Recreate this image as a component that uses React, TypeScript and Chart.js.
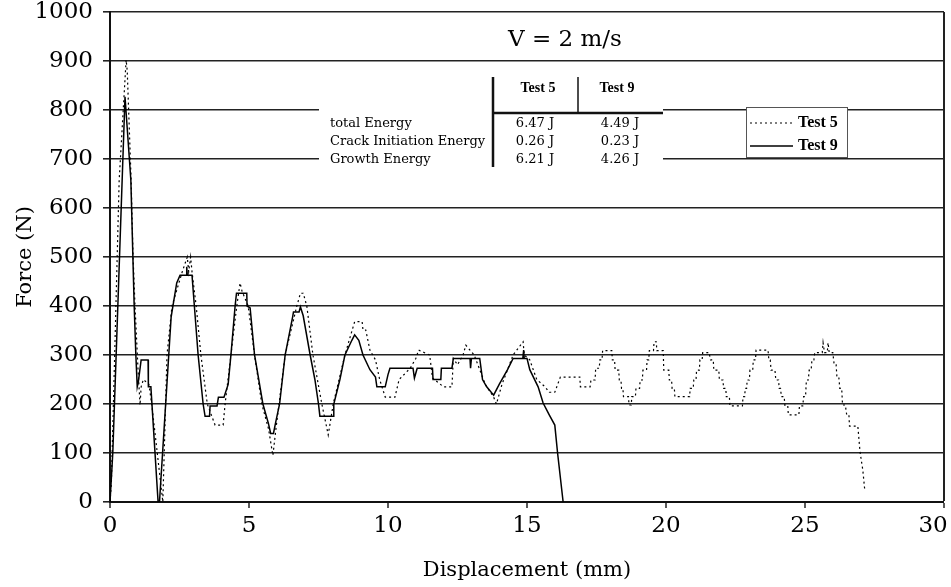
import { useEffect, useRef } from 'react';
import { Chart, registerables } from 'chart.js';

Chart.register(...registerables);

// ---------- data ----------
const chartTitle = 'V = 2 m/s';
const xAxisTitle = 'Displacement (mm)';
const yAxisTitle = 'Force (N)';
const seriesNames = ['Test 5', 'Test 9'];

const tableHeaders = ['Test 5', 'Test 9'];
const tableRows = ['total Energy', 'Crack Initiation Energy', 'Growth Energy'];
const test5Energy = ['6.47 J', '0.26 J', '6.21 J'];
const test9Energy = ['4.49 J', '0.23 J', '4.26 J'];

const xTicksMax = 30;
const yTicksMax = 1000;

// Test 9 (solid)
const test9X = [
  0, 0.05, 0.1, 0.54, 0.57, 0.75, 0.87, 0.93, 0.98, 1.02,
  1.12, 1.37, 1.38, 1.47, 1.73, 1.78, 2.2, 2.4, 2.52, 2.74,
  2.76, 2.78, 2.95, 3.17, 3.35, 3.42, 3.58, 3.6, 3.85, 3.9,
  4.1, 4.25, 4.35, 4.5, 4.55, 4.92, 4.93, 5.04, 5.2, 5.5,
  5.7, 5.78, 5.88, 5.95, 6.1, 6.3, 6.57, 6.6, 6.8, 6.85,
  6.95, 7.2, 7.37, 7.5, 7.55, 8.03, 8.05, 8.27, 8.45, 8.7,
  8.8, 8.95, 9.1, 9.35, 9.55, 9.6, 9.9, 10.0, 10.07, 10.9,
  10.95, 11.05, 11.6, 11.62, 11.9, 11.92, 12.3, 12.35, 12.95, 12.97,
  13.0, 13.3, 13.4, 13.55, 13.8, 14.0, 14.3, 14.5, 14.85, 14.88,
  14.9, 15.0, 15.1, 15.4, 15.58, 15.8, 16.0, 16.1, 16.3,
];
const test9F = [
  0, 50, 100, 827, 827, 657, 400, 300, 235, 245,
  290, 290, 235, 235, 0, 0, 378, 447, 463, 463,
  480, 463, 463, 300, 200, 175, 175, 196, 196, 214,
  214, 240, 300, 400, 426, 426, 400, 396, 300, 200,
  160, 140, 140, 160, 200, 300, 378, 388, 388, 398,
  380, 300, 250, 200, 175, 175, 200, 250, 300, 330,
  341, 330, 300, 270, 255, 235, 235, 260, 273, 273,
  253, 273, 273, 250, 250, 273, 273, 293, 293, 273,
  293, 293, 250, 235, 218, 240, 270, 293, 293, 310,
  293, 293, 270, 235, 202, 178, 157, 100, 0,
];

// Test 5 (dotted)
const test5X = [
  0, 0.05, 0.33, 0.58, 0.62, 0.76, 0.83, 0.9, 1.0, 1.08,
  1.12, 1.2, 1.4, 1.5, 1.9, 2.05, 2.23, 2.6, 2.78, 2.83,
  2.9, 2.95, 3.1, 3.27, 3.5, 3.78, 4.07, 4.14, 4.35, 4.56,
  4.68, 4.75, 4.97, 5.2, 5.46, 5.7, 5.86, 5.97, 6.08, 6.3,
  6.72, 6.85, 6.95, 7.08, 7.3, 7.62, 7.85, 8.03, 8.45, 8.8,
  9.07, 9.1, 9.2, 9.35, 9.55, 9.7, 9.9, 10.25, 10.4, 10.8,
  11.0, 11.1, 11.5, 11.6, 12.0, 12.3, 12.35, 12.5, 12.7, 12.8,
  13.1, 13.3, 13.5, 13.8, 13.9, 14.1, 14.3, 14.5, 14.86, 14.9,
  15.1, 15.35, 15.65, 15.8, 16.0, 16.2, 16.9, 16.92, 17.27, 17.3,
  17.45, 17.47, 17.6, 17.62, 17.7, 17.72, 18.05, 18.07, 18.15, 18.17,
  18.3, 18.32, 18.38, 18.4, 18.45, 18.47, 18.65, 18.67, 18.75, 18.77,
  18.9, 18.92, 19.05, 19.07, 19.15, 19.17, 19.3, 19.32, 19.38, 19.4,
  19.55, 19.57, 19.65, 19.67, 19.9, 19.92, 20.1, 20.12, 20.2, 20.22,
  20.3, 20.32, 20.85, 20.87, 20.98, 21.0, 21.08, 21.1, 21.2, 21.22,
  21.3, 21.32, 21.55, 21.6, 21.7, 21.72, 21.9, 21.92, 22.05, 22.07,
  22.15, 22.17, 22.28, 22.3, 22.75, 22.77, 22.83, 22.85, 22.9, 22.92,
  23.0, 23.02, 23.12, 23.14, 23.22, 23.24, 23.67, 23.7, 23.75, 23.78,
  23.92, 23.95, 24.05, 24.07, 24.12, 24.15, 24.25, 24.28, 24.38, 24.4,
  24.78, 24.8, 24.92, 24.95, 25.02, 25.05, 25.12, 25.15, 25.22, 25.25,
  25.32, 25.35, 25.62, 25.65, 25.7, 25.8, 25.83, 25.87, 26.0, 26.05,
  26.12, 26.15, 26.22, 26.25, 26.32, 26.35, 26.45, 26.5, 26.58, 26.6,
  26.9, 26.98, 27.08, 27.15,
];
const test5F = [
  0, 40, 657, 902, 880, 657, 500, 400, 280, 198,
  235, 250, 240, 200, 0, 300, 400, 470, 500, 470,
  500, 470, 400, 300, 200, 157, 157, 200, 300, 400,
  447, 430, 400, 300, 200, 150, 95, 150, 200, 300,
  400, 426, 426, 400, 300, 200, 137, 200, 300, 368,
  368, 351, 351, 310, 290, 250, 214, 214, 250, 273,
  293, 310, 300, 253, 235, 235, 293, 280, 300, 320,
  300, 270, 240, 214, 200, 240, 270, 300, 327, 300,
  290, 250, 235, 224, 224, 255, 255, 235, 235, 249,
  249, 273, 273, 290, 290, 309, 309, 290, 290, 269,
  269, 249, 249, 232, 232, 215, 215, 198, 198, 215,
  215, 232, 232, 249, 249, 269, 269, 290, 290, 309,
  309, 327, 327, 309, 309, 269, 269, 249, 249, 232,
  232, 215, 215, 232, 232, 249, 249, 269, 269, 290,
  290, 305, 305, 290, 290, 269, 269, 249, 249, 232,
  232, 215, 215, 196, 196, 215, 215, 232, 232, 249,
  249, 269, 269, 290, 290, 310, 310, 290, 290, 269,
  269, 249, 249, 232, 232, 215, 215, 196, 196, 178,
  178, 196, 196, 215, 215, 249, 249, 269, 269, 290,
  290, 305, 305, 325, 305, 305, 325, 305, 305, 280,
  280, 253, 253, 232, 232, 198, 198, 178, 178, 155,
  155, 102, 65, 24,
];

// ---------- helpers ----------
const toPoints = (xs: number[], ys: number[]) => {
  const n = Math.min(xs.length, ys.length);
  const out: { x: number; y: number }[] = [];
  for (let i = 0; i < n; i++) out.push({ x: xs[i], y: ys[i] });
  return out;
};

const SERIF = '"DejaVu Serif", serif';
const SMALL = '"Liberation Serif", serif';

const overlayPlugin = {
  id: 'overlay',
  afterDatasetsDraw(chart: any) {
    const { ctx, chartArea } = chart;
    const L = chartArea.left;
    const T = chartArea.top;
    ctx.save();

    // title inside plot
    ctx.fillStyle = '#000';
    ctx.font = `23px ${SERIF}`;
    ctx.textAlign = 'center';
    ctx.textBaseline = 'middle';
    ctx.fillText(chartTitle, L + 455, T + 28);

    // energy table: mask gridlines
    ctx.fillStyle = '#fff';
    ctx.fillRect(L + 209, T + 58, 344, 100);

    ctx.strokeStyle = '#111';
    ctx.lineWidth = 2.5;
    ctx.beginPath();
    ctx.moveTo(L + 383, T + 65);
    ctx.lineTo(L + 383, T + 155);
    ctx.moveTo(L + 382, T + 101);
    ctx.lineTo(L + 553, T + 101);
    ctx.stroke();
    ctx.lineWidth = 1.5;
    ctx.beginPath();
    ctx.moveTo(L + 468, T + 65);
    ctx.lineTo(L + 468, T + 101);
    ctx.stroke();

    ctx.fillStyle = '#000';
    ctx.font = `bold 14px ${SMALL}`;
    ctx.textAlign = 'center';
    ctx.fillText(tableHeaders[0], L + 428, T + 76);
    ctx.fillText(tableHeaders[1], L + 507, T + 76);

    ctx.font = `13px ${SERIF}`;
    tableRows.forEach((r, i) => {
      const y = T + 112 + i * 18;
      ctx.textAlign = 'left';
      ctx.fillText(r, L + 220, y);
      ctx.textAlign = 'center';
      ctx.fillText(test5Energy[i], L + 425, y);
      ctx.fillText(test9Energy[i], L + 510, y);
    });

    // legend box
    const bx = L + 636;
    const by = T + 95;
    ctx.fillStyle = '#fff';
    ctx.fillRect(bx, by, 101, 50);
    ctx.strokeStyle = '#555';
    ctx.lineWidth = 1;
    ctx.strokeRect(bx + 0.5, by + 0.5, 101, 50);

    ctx.strokeStyle = '#000';
    ctx.lineWidth = 1.2;
    ctx.setLineDash([2, 3]);
    ctx.beginPath();
    ctx.moveTo(bx + 4, by + 16);
    ctx.lineTo(bx + 47, by + 16);
    ctx.stroke();
    ctx.setLineDash([]);
    ctx.lineWidth = 1.5;
    ctx.beginPath();
    ctx.moveTo(bx + 4, by + 39);
    ctx.lineTo(bx + 47, by + 39);
    ctx.stroke();

    ctx.fillStyle = '#000';
    ctx.font = `bold 16px ${SMALL}`;
    ctx.textAlign = 'left';
    ctx.textBaseline = 'middle';
    ctx.fillText(seriesNames[0], bx + 52, by + 16);
    ctx.fillText(seriesNames[1], bx + 52, by + 39);

    ctx.restore();
  },
};

export default function App() {
  const ref = useRef<HTMLCanvasElement>(null);

  useEffect(() => {
    document.body.style.margin = '0';
    const canvas = ref.current;
    if (!canvas) return;
    const chart = new Chart(canvas, {
      type: 'line',
      data: {
        datasets: [
          {
            label: seriesNames[0],
            data: toPoints(test5X, test5F),
            borderColor: '#000',
            borderWidth: 1.2,
            borderDash: [2, 3],
            pointRadius: 0,
            tension: 0,
            fill: false,
          },
          {
            label: seriesNames[1],
            data: toPoints(test9X, test9F),
            borderColor: '#000',
            borderWidth: 1.5,
            pointRadius: 0,
            tension: 0,
            fill: false,
          },
        ],
      },
      options: {
        animation: false,
        responsive: true,
        maintainAspectRatio: false,
        layout: { padding: { left: 0, right: 7, top: 12, bottom: 0 } },
        plugins: {
          legend: { display: false },
          tooltip: { enabled: false },
          title: { display: false },
        },
        scales: {
          x: {
            type: 'linear',
            min: 0,
            max: xTicksMax,
            afterFit: (s: any) => {
              s.height = 85;
              s.paddingLeft = 0;
              s.paddingRight = 0;
            },
            ticks: {
              stepSize: 5,
              maxRotation: 0,
              autoSkip: false,
              color: '#000',
              padding: 4,
              font: { family: 'DejaVu Serif', size: 23 },
              callback: (v: any) => (v === xTicksMax ? `${v}\u00a0\u00a0\u00a0` : `${v}`),
            },
            grid: {
              drawOnChartArea: true,
              color: '#222',
              lineWidth: (c: any) => (c.tick && c.tick.value === xTicksMax ? 2 : 0),
              drawTicks: true,
              tickLength: 6,
              tickWidth: 1.5,
              tickColor: '#222',
            },
            border: { display: true, color: '#111', width: 2 },
            title: {
              display: true,
              text: xAxisTitle,
              color: '#000',
              font: { family: 'DejaVu Serif', size: 21 },
              padding: { top: 0, bottom: 4 },
            },
          },
          y: {
            type: 'linear',
            min: 0,
            max: yTicksMax,
            afterFit: (s: any) => {
              s.width = 110;
              s.paddingTop = 0;
              s.paddingBottom = 0;
            },
            ticks: {
              stepSize: 100,
              color: '#000',
              padding: 10,
              font: { family: 'DejaVu Serif', size: 23 },
              callback: (v: any) => `${v}`,
            },
            grid: {
              color: '#222',
              lineWidth: 1.6,
              tickLength: 7,
              tickColor: '#222',
            },
            border: { display: true, color: '#111', width: 2 },
            title: {
              display: true,
              text: yAxisTitle,
              color: '#000',
              font: { family: 'DejaVu Serif', size: 21 },
              padding: { top: 13, bottom: 0 },
            },
          },
        },
      },
      plugins: [overlayPlugin],
    } as any);
    return () => chart.destroy();
  }, []);

  return (
    <div style={{ position: 'absolute', left: 0, top: 0, width: 951, height: 587 }}>
      <canvas ref={ref} />
    </div>
  );
}
